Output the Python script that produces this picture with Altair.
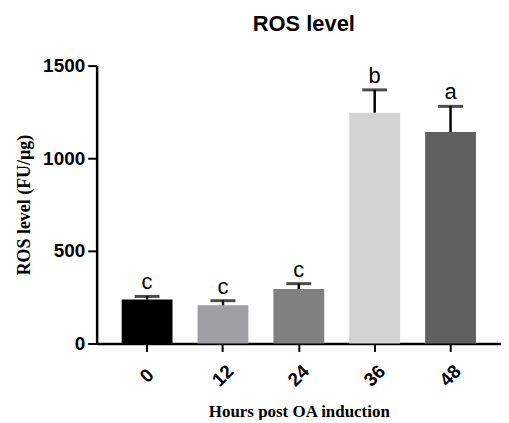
import altair as alt
import pandas as pd

hours = ["0", "12", "24", "36", "48"]
means = [237, 206, 294, 1246, 1141]
uppers = [254, 231, 323, 1369, 1280]
letters = ["c", "c", "c", "b", "a"]
colors = ["#000000", "#a0a0a4", "#808080", "#d3d3d3", "#606060"]

df = pd.DataFrame({"hour": hours, "mean": means, "upper": uppers, "letter": letters})

x = alt.X("hour:N", sort=hours, scale=alt.Scale(paddingInner=0.33, paddingOuter=0.33),
          axis=alt.Axis(title="Hours post OA induction", labelAngle=-45, labelAlign="center",
                        labelBaseline="middle", labelPadding=24, labelFont="Liberation Sans",
                        labelFontWeight="bold", labelFontSize=19, labelColor="black",
                        titleFont="Liberation Serif", titleFontSize=17, titleFontWeight="bold",
                        titleColor="black", titlePadding=14, domainColor="black", domainWidth=2.5,
                        tickColor="black", tickWidth=2, tickSize=8))
y = alt.Y("mean:Q", scale=alt.Scale(domain=[0, 1500], nice=False),
          axis=alt.Axis(title="ROS level (FU/µg)", values=[0, 500, 1000, 1500], format="d",
                        grid=False, labelFont="Liberation Sans", labelFontWeight="bold",
                        labelFontSize=19, labelColor="black", labelPadding=3,
                        titleFont="Liberation Serif", titleFontSize=18, titleFontWeight="bold",
                        titleColor="black", titlePadding=9, domainColor="black", domainWidth=2.5,
                        tickColor="black", tickWidth=2, tickSize=9))

bars = alt.Chart(df).mark_bar().encode(
    x=x, y=y,
    color=alt.Color("hour:N", sort=hours, scale=alt.Scale(domain=hours, range=colors), legend=None),
)
err = alt.Chart(df).mark_rule(color="black", strokeWidth=2.5).encode(
    x=alt.X("hour:N", sort=hours), y="mean:Q", y2="upper:Q")
caps = alt.Chart(df).mark_tick(color="black", thickness=3, size=25).encode(
    x=alt.X("hour:N", sort=hours), y="upper:Q")
text = alt.Chart(df).mark_text(font="Liberation Sans", fontSize=22, dy=-14, color="black").encode(
    x=alt.X("hour:N", sort=hours), y="upper:Q", text="letter:N")

chart = alt.layer(bars, err, caps, text).properties(
    width=406, height=279,
    autosize=alt.AutoSizeParams(type="none"),
    padding={"left": 89, "top": 57, "right": 0, "bottom": 76},
    title=alt.TitleParams("ROS level", font="Liberation Sans", fontSize=22, fontWeight="bold",
                          color="black", dx=5, offset=21),
).configure_view(stroke=None)

chart.save("out.html", embed_options={"renderer": "svg", "actions": False})
